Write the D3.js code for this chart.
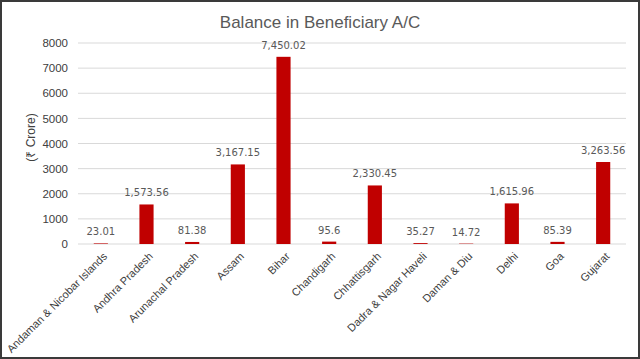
<!DOCTYPE html>
<html><head><meta charset="utf-8">
<script src="https://cdn.jsdelivr.net/npm/d3@7"></script>
<style>body{margin:0;background:#fff}svg{display:block}</style>
</head><body><svg id="c" width="640" height="359"></svg>
<script>
const categories = ["Andaman & Nicobar Islands","Andhra Pradesh","Arunachal Pradesh","Assam","Bihar","Chandigarh","Chhattisgarh","Dadra & Nagar Haveli","Daman & Diu","Delhi","Goa","Gujarat"];
const values = [23.01,1573.56,81.38,3167.15,7450.02,95.6,2330.45,35.27,14.72,1615.96,85.39,3263.56];
const valueLabels = ["23.01","1,573.56","81.38","3,167.15","7,450.02","95.6","2,330.45","35.27","14.72","1,615.96","85.39","3,263.56"];
const yTicks = [0,1000,2000,3000,4000,5000,6000,7000,8000];

const svg = d3.select("#c");
const W=640,H=359;
const m={l:78,r:14,t:43,b:115};
const x=d3.scaleBand().domain(categories).range([m.l,W-m.r]).paddingInner(0.69).paddingOuter(0.345);
const y=d3.scaleLinear().domain([0,8000]).range([H-m.b,m.t]);

svg.append("rect").attr("x",1).attr("y",1).attr("width",W-2).attr("height",H-2).attr("fill","#fff").attr("stroke","#3a3a3a").attr("stroke-width",2);

// gridlines
svg.append("g").selectAll("line").data(yTicks).join("line")
  .attr("x1",m.l).attr("x2",W-m.r).attr("y1",d=>y(d)).attr("y2",d=>y(d))
  .attr("stroke","#d9d9d9").attr("stroke-width",1);

const ya=svg.append("g").attr("transform",`translate(${m.l},0)`).call(d3.axisLeft(y).tickValues(yTicks).tickSize(0).tickPadding(10).tickFormat(d3.format("d")));
ya.select(".domain").remove();
ya.selectAll("text").attr("fill","#404040").style("font-family","Liberation Sans, Arial, sans-serif").style("font-size","11.5px");

const xa=svg.append("g").attr("transform",`translate(0,${y(0)})`).call(d3.axisBottom(x).tickSize(0).tickPadding(0));
xa.select(".domain").remove();
xa.selectAll("text").attr("fill","#404040").style("font-family","Liberation Sans, Arial, sans-serif").style("font-size","11px")
  .attr("text-anchor","end").attr("dy",0).attr("transform","translate(7,13) rotate(-45)");

svg.append("g").selectAll("rect").data(categories).join("rect")
  .attr("x",d=>x(d)).attr("width",x.bandwidth())
  .attr("y",(d,i)=>y(values[i])).attr("height",(d,i)=>y(0)-y(values[i]))
  .attr("fill","#C00000");

svg.append("g").selectAll("text").data(categories).join("text")
  .attr("x",d=>x(d)+x.bandwidth()/2).attr("y",(d,i)=>y(values[i])-8)
  .attr("text-anchor","middle").attr("fill","#595959")
  .style("font-family","DejaVu Sans, sans-serif").style("font-size","10px")
  .text((d,i)=>valueLabels[i]);

svg.append("text").attr("x",W/2).attr("y",28).attr("text-anchor","middle")
  .attr("fill","#595959").style("font-family","Liberation Sans, Arial, sans-serif").style("font-size","17px")
  .text("Balance in Beneficiary A/C");

svg.append("text").attr("transform",`translate(35,${(y(0)+y(8000))/2-6}) rotate(-90)`).attr("text-anchor","middle")
  .attr("fill","#404040").style("font-family","Liberation Sans, Arial, sans-serif").style("font-size","12px")
  .text("(₹ Crore)");
</script></body></html>
